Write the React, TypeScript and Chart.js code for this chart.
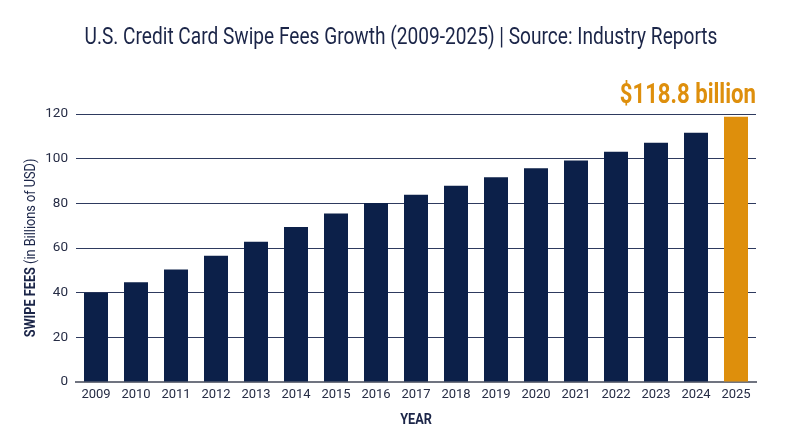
import React, { useEffect, useRef } from "react";
import { Chart, registerables } from "chart.js";

Chart.register(...registerables);

const years = ["2009","2010","2011","2012","2013","2014","2015","2016","2017","2018","2019","2020","2021","2022","2023","2024","2025"];
const swipeFees = [40, 44.7, 50.4, 56.5, 62.8, 69.4, 75.5, 80.1, 83.8, 87.9, 91.7, 95.7, 99.2, 103.1, 107.1, 111.6, 118.8];
const yTicks = [0, 20, 40, 60, 80, 100, 120];
const titleText = "U.S. Credit Card Swipe Fees Growth (2009-2025) | Source: Industry Reports";
const highlightLabel = "$118.8 billion";

const NAVY = "#0c2049";
const GOLD = "#de8f0c";
const TEXT = "#1b2548";
const FONT = "Roboto, 'Noto Sans', sans-serif";
const COND = 0.82;

type Seg = { text: string; weight: string };

function drawSegs(ctx: CanvasRenderingContext2D, segs: Seg[], size: number, x: number, y: number, align: "left" | "center" | "right", color: string, sx: number) {
  ctx.save();
  ctx.fillStyle = color;
  ctx.textBaseline = "middle";
  ctx.textAlign = "left";
  let total = 0;
  const widths = segs.map((s) => {
    ctx.font = `${s.weight} ${size}px ${FONT}`;
    const w = ctx.measureText(s.text).width;
    total += w;
    return w;
  });
  ctx.translate(x, y);
  ctx.scale(sx, 1);
  let start = align === "left" ? 0 : align === "center" ? -total / 2 : -total;
  segs.forEach((s, i) => {
    ctx.font = `${s.weight} ${size}px ${FONT}`;
    ctx.fillText(s.text, start, 0);
    start += widths[i];
  });
  ctx.restore();
}

const textPlugin = {
  id: "texts",
  afterDraw(chart: any) {
    const ctx: CanvasRenderingContext2D = chart.ctx;
    const ca = chart.chartArea;
    // Title
    drawSegs(ctx, [{ text: titleText, weight: "400" }], 23.3, 401, 38, "center", TEXT, COND);
    // Highlight annotation above last bar
    const meta = chart.getDatasetMeta(0);
    const last = meta.data[meta.data.length - 1];
    drawSegs(ctx, [{ text: highlightLabel, weight: "700" }], 27, ca.right, last.y - 20, "right", GOLD, COND);
    // Y axis title
    ctx.save();
    ctx.translate(31, (ca.top + ca.bottom) / 2);
    ctx.rotate(-Math.PI / 2);
    drawSegs(ctx, [{ text: "SWIPE FEES", weight: "700" }, { text: " (in Billions of USD)", weight: "400" }], 15.5, 0, 0, "center", TEXT, COND);
    ctx.restore();
    // X axis title
    drawSegs(ctx, [{ text: "YEAR", weight: "700" }], 15.5, (ca.left + ca.right) / 2, 420, "center", TEXT, COND);
  },
};

export default function App() {
  const ref = useRef<HTMLCanvasElement | null>(null);
  useEffect(() => {
    if (!ref.current) return;
    const chart = new Chart(ref.current, {
      type: "bar",
      data: {
        labels: years,
        datasets: [
          {
            data: swipeFees,
            backgroundColor: swipeFees.map((_, i) => (i === swipeFees.length - 1 ? GOLD : NAVY)),
            barPercentage: 0.6,
            categoryPercentage: 1,
          },
        ],
      },
      options: {
        responsive: false,
        animation: false,
        layout: { padding: { top: 114, right: 44, left: 0, bottom: 0 } },
        plugins: {
          legend: { display: false },
          title: { display: false },
          tooltip: { enabled: false },
        },
        scales: {
          x: {
            grid: { display: false, drawTicks: false },
            border: { display: true, color: "#707480", width: 2 },
            ticks: { color: "#262c45", font: { family: FONT, size: 13 }, padding: 5, maxRotation: 0, autoSkip: false },
            afterFit: (s: any) => { s.height = 65; },
          },
          y: {
            min: 0,
            max: 120,
            afterBuildTicks: (s: any) => { s.ticks = yTicks.map((v) => ({ value: v })); },
            grid: { color: "#2e3a5e", lineWidth: 1, drawTicks: false },
            border: { display: false },
            ticks: { color: "#262c45", font: { family: FONT, size: 13.5 }, padding: 8 },
            afterFit: (s: any) => { s.width = 76; },
          },
        },
      },
      plugins: [textPlugin],
    });
    return () => chart.destroy();
  }, []);
  return (
    <div style={{ position: "fixed", left: 0, top: 0, width: 800, height: 447, background: "#fff" }}>
      <canvas ref={ref} width={800} height={447} style={{ width: 800, height: 447, display: "block" }} />
    </div>
  );
}
